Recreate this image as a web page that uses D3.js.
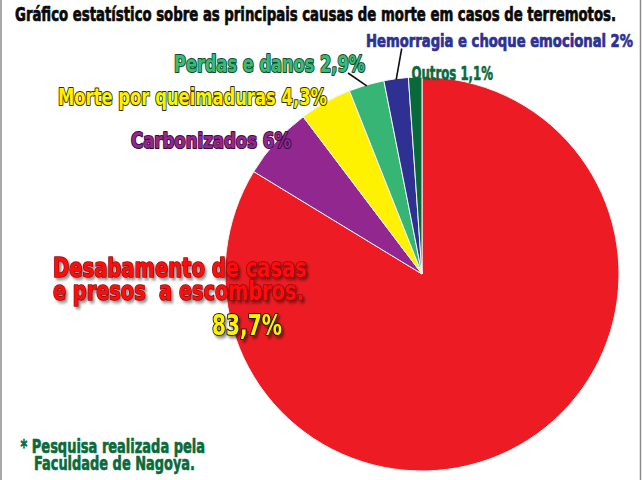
<!DOCTYPE html>
<html>
<head>
<meta charset="utf-8">
<script src="https://cdn.jsdelivr.net/npm/d3@7"></script>
<style>
  html, body { margin: 0; padding: 0; background: #ffffff; }
  svg { display: block; }
  text { font-family: "Liberation Sans Narrow", "DejaVu Sans Condensed", "Liberation Sans", sans-serif; font-weight: bold; }
</style>
</head>
<body>
<svg id="chart" width="642" height="480"></svg>
<script>
// ---- data ----
const title = "Gráfico estatístico sobre as principais causas de morte em casos de terremotos.";
const categories = ["Desabamento de casas e presos  a escombros.", "Carbonizados", "Morte por queimaduras", "Perdas e danos", "Hemorragia e choque emocional", "Outros"];
const values = [83.7, 6, 4.3, 2.9, 2, 1.1];
const valueLabels = ["83,7%", "6%", "4,3%", "2,9%", "2%", "1,1%"];
const footnote = ["* Pesquisa realizada pela", "Faculdade de Nagoya."];

// ---- styles / layout ----
const sliceColors = ["#ed1c24", "#92278f", "#fff200", "#37b574", "#2e3192", "#066a3a"];
const cx = 422, cy = 274, R = 197;

const svg = d3.select("#chart");
const defs = svg.append("defs");
const f = defs.append("filter").attr("id", "shadow").attr("x", "-10%").attr("y", "-20%").attr("width", "120%").attr("height", "160%");
f.append("feDropShadow").attr("dx", 2).attr("dy", 2).attr("stdDeviation", 1.2).attr("flood-color", "#000").attr("flood-opacity", 0.45);

// frame lines
svg.append("line").attr("x1", 1).attr("x2", 1).attr("y1", 0).attr("y2", 480).attr("stroke", "#8c8c8c").attr("stroke-width", 1.5);
svg.append("line").attr("x1", 640.5).attr("x2", 640.5).attr("y1", 0).attr("y2", 480).attr("stroke", "#8c8c8c").attr("stroke-width", 1.5);

// pie
const pie = d3.pie().sort(null).value(d => d).startAngle(0).endAngle(2 * Math.PI);
const arcs = pie(values);
const arc = d3.arc().innerRadius(0).outerRadius(R);
const g = svg.append("g").attr("transform", `translate(${cx},${cy})`);
g.selectAll("path").data(arcs).enter().append("path")
  .attr("d", arc)
  .attr("fill", (d, i) => sliceColors[i])
  .attr("stroke", "#f4f4f4")
  .attr("stroke-width", 1);

// leader lines
const edgeArc = d3.arc().innerRadius(196).outerRadius(196);
const leaders = [
  { idx: 4, x: 401.7, y: 48.5 },
  { idx: 3, x: 348, y: 73 }
];
leaders.forEach(l => {
  const p = edgeArc.centroid(arcs[l.idx]);
  svg.append("line")
    .attr("x1", l.x).attr("y1", l.y)
    .attr("x2", cx + p[0]).attr("y2", cy + p[1])
    .attr("stroke", "#111").attr("stroke-width", 1.6);
});

// Condensed text (one or more lines in one <text>): font-size chosen so the
// natural width fits the target, then stretched vertically to the wanted height.
function addText(lines, o) {
  if (!Array.isArray(lines)) lines = [lines];
  const specs = o.lines || [{ x: o.x, y: o.y, w: o.w }];
  const x0 = specs[0].x, y0 = specs[0].y;
  const t = svg.append("text")
    .attr("font-size", o.size)
    .attr("fill", o.fill)
    .style("white-space", "pre");
  const spans = lines.map((s, i) => t.append("tspan")
    .attr("x", specs[i].x).attr("y", specs[i].y).text(s));
  let ratio = 1;
  spans.forEach((sp, i) => {
    const nw = sp.node().getComputedTextLength();
    ratio = Math.min(ratio, specs[i].w / nw);
  });
  const fs = o.size * ratio;
  t.attr("font-size", fs);
  const k = o.size / fs;
  if (k > 1.0001) {
    t.attr("transform", `translate(${x0},${y0}) scale(1,${k}) translate(${-x0},${-y0})`);
    spans.forEach((sp, i) => sp.attr("y", y0 + (specs[i].y - y0) / k));
  }
  spans.forEach((sp, i) => sp.attr("textLength", specs[i].w).attr("lengthAdjust", "spacingAndGlyphs"));
  const sw = (o.sw || 0.6) / k;
  t.attr("stroke", o.stroke || o.fill).attr("stroke-width", sw)
   .attr("stroke-linejoin", "round").attr("paint-order", "stroke");
  if (o.shadow) t.attr("filter", "url(#shadow)");
  return t;
}

// title
addText(title, { x: 15, y: 21.5, w: 601, size: 20, fill: "#0a0a0a", sw: 0.7 });

// slice labels
const lines0 = ["Desabamento de casas", "e presos  a escombros."];
addText(lines0, { lines: [{ x: 53, y: 277, w: 254 }, { x: 53, y: 300, w: 251 }], size: 26, fill: "#ff1010", stroke: "#8a0a0a", sw: 1.6, shadow: true });
addText(valueLabels[0], { x: 212, y: 335, w: 70, size: 29, fill: "#fff200", stroke: "#1a1a1a", sw: 2.2, shadow: true });

addText(categories[1] + " " + valueLabels[1], { x: 131, y: 148, w: 160, size: 22, fill: "#92278f", stroke: "#3b0c3b", sw: 2 });
addText(categories[2] + " " + valueLabels[2], { x: 58, y: 105.5, w: 269, size: 23, fill: "#fff200", stroke: "#2b2b05", sw: 2 });
addText(categories[3] + " " + valueLabels[3], { x: 174, y: 72, w: 191, size: 23, fill: "#3cb878", stroke: "#0c4a2a", sw: 2 });
addText(categories[4] + " " + valueLabels[4], { x: 366, y: 47.5, w: 267, size: 18.5, fill: "#2e3192", sw: 0.7 });
addText(categories[5] + " " + valueLabels[5], { x: 411.5, y: 80, w: 81.5, size: 19, fill: "#0a6a3a", sw: 0.6 });

// footnote
addText(footnote, { lines: [{ x: 20.5, y: 453, w: 184.5 }, { x: 34, y: 470.5, w: 161 }], size: 19, fill: "#0a6a3a", sw: 0.6 });
</script>
</body>
</html>
